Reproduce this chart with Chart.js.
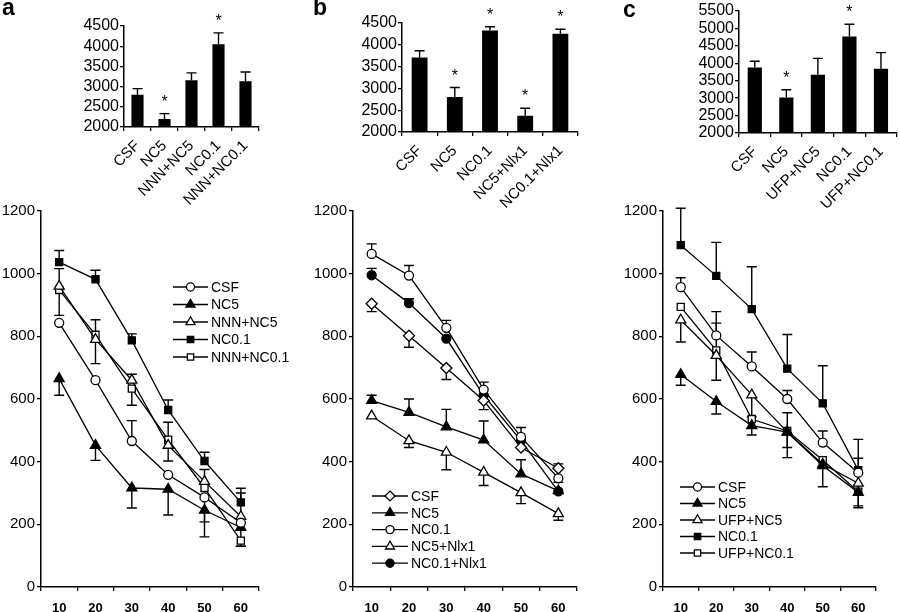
<!DOCTYPE html>
<html><head><meta charset="utf-8">
<script src="https://cdn.jsdelivr.net/npm/chart.js"></script>
<style>
body{margin:0;background:#fff;}
#wrap{position:relative;width:900px;height:612px;overflow:hidden;background:#fff;}
#wrap canvas{position:absolute;}
.lt{position:absolute;font-family:'Liberation Sans',Arial,sans-serif;font-weight:bold;font-size:23px;line-height:23px;color:#000;}
</style></head><body>
<div id="wrap">
<canvas id="barA"></canvas><canvas id="barB"></canvas><canvas id="barC"></canvas>
<canvas id="lineA"></canvas><canvas id="lineB"></canvas><canvas id="lineC"></canvas>
<div class="lt" style="left:2px;top:-4px">a</div>
<div class="lt" style="left:313px;top:-4px">b</div>
<div class="lt" style="left:623px;top:-2px">c</div>
</div>
<script>
// ---------------- DATA ----------------
const timeLabels = ['10', '20', '30', '40', '50', '60'];

// Panel a (top bars)
const aBarLabels = ['CSF', 'NC5', 'NNN+NC5', 'NC0.1', 'NNN+NC0.1'];
const aBarValues = [2800, 2200, 3160, 4050, 3130];
const aBarErrors = [150, 130, 180, 280, 230];
const aBarSig = [false, true, false, true, false];

// Panel b (top bars)
const bBarLabels = ['CSF', 'NC5', 'NC0.1', 'NC5+Nlx1', 'NC0.1+Nlx1'];
const bBarValues = [3710, 2800, 4330, 2375, 4255];
const bBarErrors = [155, 220, 85, 170, 100];
const bBarSig = [false, true, true, true, true];

// Panel c (top bars)
const cBarLabels = ['CSF', 'NC5', 'UFP+NC5', 'NC0.1', 'UFP+NC0.1'];
const cBarValues = [3880, 3020, 3670, 4770, 3845];
const cBarErrors = [180, 220, 470, 350, 460];
const cBarSig = [false, true, false, true, false];

// Panel a (time course); errors: + drawn upward, - drawn downward
const aNames = ['CSF', 'NC5', 'NNN+NC5', 'NC0.1', 'NNN+NC0.1'];
const aCSF = [843, 660, 466, 358, 286, 205];
const aCSFErr = [0, 0, 65, 0, -78, 0];
const aNC5 = [665, 452, 316, 312, 245, 190];
const aNC5Err = [-53, -48, -64, -82, -85, -60];
const aNNNNC5 = [960, 790, 660, 452, 337, 225];
const aNNNNC5Err = [56, -77, 19, -50, 38, 75];
const aNC01 = [1037, 982, 787, 565, 402, 270];
const aNC01Err = [37, 29, 21, 32, 28, 45];
const aNNNNC01 = [948, 805, 633, 470, 316, 148];
const aNNNNC01Err = [-81, 48, -53, 56, 0, -18];

// Panel b (time course)
const bNames = ['CSF', 'NC5', 'NC0.1', 'NC5+Nlx1', 'NC0.1+Nlx1'];
const bCSF = [904, 802, 699, 595, 445, 379];
const bCSFErr = [-25, -37, -37, -29, 0, 14];
const bNC5 = [595, 557, 511, 469, 361, 307];
const bNC5Err = [17, 43, 56, 61, 45, 0];
const bNC01 = [1063, 994, 827, 630, 479, 347];
const bNC01Err = [32, 32, 24, 24, 30, -13];
const bNC5Nlx = [546, 467, 430, 366, 301, 234];
const bNC5NlxErr = [0, -22, -56, -42, -35, -21];
const bNC01Nlx = [995, 906, 793, 612, 467, 305];
const bNC01NlxErr = [22, 14, 0, 0, 0, 0];

// Panel c (time course)
const cNames = ['CSF', 'NC5', 'UFP+NC5', 'NC0.1', 'UFP+NC0.1'];
const cCSF = [957, 803, 704, 600, 461, 365];
const cCSFErr = [30, 76, 46, 27, 37, 46];
const cNC5 = [678, 592, 515, 494, 387, 302];
const cNC5Err = [-34, -40, -30, -81, -67, -49];
const cUFPNC5 = [852, 739, 613, 495, 392, 331];
const cUFPNC5Err = [-70, -79, -70, 61, 0, 0];
const cNC01 = [1091, 993, 887, 697, 586, 373];
const cNC01Err = [118, 107, 135, 109, 120, 98];
const cUFPNC01 = [894, 755, 536, 498, 405, 304];
const cUFPNC01Err = [0, 87, 0, -53, 0, -45];

// ---------------- STYLE / LAYOUT ----------------
const FONT = "'Liberation Sans', Arial, sans-serif";
const RADIUS = {circle: 4.5, triangle: 5.8, rect: 5, rectRot: 5.5};
const aStyles = [['circle', false], ['triangle', true], ['triangle', false], ['rect', true], ['rect', false]];
const bStyles = [['rectRot', false], ['triangle', true], ['circle', false], ['triangle', false], ['circle', true]];
const cStyles = [['circle', false], ['triangle', true], ['triangle', false], ['rect', true], ['rect', false]];

function drawMarker(ctx, style, r, x, y, filled) {
  ctx.save();
  ctx.beginPath();
  if (style === 'circle') {
    ctx.arc(x, y, r, 0, Math.PI * 2);
  } else if (style === 'triangle') {
    let rad = 0;
    ctx.moveTo(x + Math.sin(rad) * r, y - Math.cos(rad) * r);
    rad += 2 * Math.PI / 3;
    ctx.lineTo(x + Math.sin(rad) * r, y - Math.cos(rad) * r);
    rad += 2 * Math.PI / 3;
    ctx.lineTo(x + Math.sin(rad) * r, y - Math.cos(rad) * r);
    ctx.closePath();
  } else if (style === 'rect') {
    const s = r * Math.SQRT1_2;
    ctx.rect(x - s, y - s, 2 * s, 2 * s);
  } else {
    ctx.moveTo(x, y - r); ctx.lineTo(x + r, y); ctx.lineTo(x, y + r); ctx.lineTo(x - r, y); ctx.closePath();
  }
  ctx.fillStyle = filled ? '#000' : '#fff';
  ctx.fill();
  ctx.lineWidth = 1.3; ctx.strokeStyle = '#000';
  ctx.stroke();
  ctx.restore();
}

const errorBarPlugin = {
  id: 'errorBars',
  beforeDatasetsDraw(chart, args, opts) { if (chart.config.type === 'line') drawErrors(chart, opts); },
  afterDatasetsDraw(chart, args, opts) { if (chart.config.type === 'bar') { drawErrors(chart, opts); drawStars(chart); } }
};
function drawErrors(chart, opts) {
  const ctx = chart.ctx, ys = chart.scales.y;
  const cap = opts.cap || 10;
  chart.data.datasets.forEach((ds, di) => {
    const meta = chart.getDatasetMeta(di);
    (ds.errors || []).forEach((e, i) => {
      if (!e) return;
      const x = meta.data[i].x;
      const y1 = ys.getPixelForValue(ds.data[i]);
      const y2 = ys.getPixelForValue(ds.data[i] + e);
      ctx.save();
      ctx.strokeStyle = '#000'; ctx.lineWidth = 1.4;
      ctx.beginPath();
      ctx.moveTo(x, y1); ctx.lineTo(x, y2);
      ctx.moveTo(x - cap / 2, y2); ctx.lineTo(x + cap / 2, y2);
      ctx.stroke();
      ctx.restore();
    });
  });
}
function drawStars(chart) {
  const ctx = chart.ctx, ys = chart.scales.y;
  chart.data.datasets.forEach((ds, di) => {
    const meta = chart.getDatasetMeta(di);
    (ds.sig || []).forEach((s, i) => {
      if (!s) return;
      const x = meta.data[i].x;
      const yt = ys.getPixelForValue(ds.data[i] + Math.max(0, ds.errors[i]));
      ctx.save();
      ctx.fillStyle = '#000';
      ctx.font = '16px ' + FONT;
      ctx.textAlign = 'center'; ctx.textBaseline = 'alphabetic';
      ctx.fillText('*', x, yt - 7);
      ctx.restore();
    });
  });
}

const lineLegendPlugin = {
  id: 'lineLegend',
  afterDraw(chart, args, opts) {
    if (!opts || opts.x === undefined) return;
    const ctx = chart.ctx;
    chart.data.datasets.forEach((ds, i) => {
      const y = opts.y + i * opts.dy;
      ctx.save();
      ctx.strokeStyle = '#000'; ctx.lineWidth = 1.3;
      ctx.beginPath(); ctx.moveTo(opts.x, y); ctx.lineTo(opts.x + opts.len, y); ctx.stroke();
      ctx.restore();
      drawMarker(ctx, ds.pointStyle, ds.pointRadius * 0.9, opts.x + opts.len / 2, y, ds.pointBackgroundColor === '#000');
      ctx.save();
      ctx.fillStyle = '#000'; ctx.font = '14px ' + FONT;
      ctx.textAlign = 'left'; ctx.textBaseline = 'middle';
      ctx.fillText(ds.label, opts.x + opts.len + 3, y + 1);
      ctx.restore();
    });
  }
};

function placeCanvas(id, box) {
  const c = document.getElementById(id);
  c.width = box.w; c.height = box.h;
  c.style.left = box.left + 'px'; c.style.top = box.top + 'px';
  c.style.width = box.w + 'px'; c.style.height = box.h + 'px';
  return c;
}

function axisCommon() {
  return {
    grid: {drawOnChartArea: false, drawTicks: true, tickLength: 4, color: '#000', lineWidth: 1.3},
    border: {display: true, color: '#000', width: 1.5}
  };
}
const plainNumber = v => String(v);

function makeBar(id, box, area, labels, values, errors, sig, yMax) {
  const c = placeCanvas(id, box);
  const xc = axisCommon(), yc = axisCommon();
  return new Chart(c, {
    type: 'bar',
    data: {labels: labels, datasets: [{data: values, errors: errors, sig: sig, backgroundColor: '#000',
      borderWidth: 0, barPercentage: 0.45, categoryPercentage: 1}]},
    options: {
      responsive: false, animation: false, devicePixelRatio: 1,
      layout: {padding: {top: area.t - box.top, right: box.left + box.w - area.r, left: 0, bottom: 0}},
      plugins: {legend: {display: false}, tooltip: {enabled: false}, errorBars: {cap: 10}},
      scales: {
        x: Object.assign(xc, {
          offset: true,
          grid: Object.assign(xc.grid, {offset: true}),
          ticks: {color: '#000', font: {family: FONT, size: 15}, minRotation: 45, maxRotation: 45, autoSkip: false, padding: 6},
          afterFit: s => { s.height = box.top + box.h - area.b; }
        }),
        y: Object.assign(yc, {
          min: 2000, max: yMax,
          ticks: {stepSize: 500, color: '#000', font: {family: FONT, size: 16}, padding: 1, autoSkip: false, callback: plainNumber},
          afterFit: s => { s.width = area.l - box.left; }
        })
      }
    },
    plugins: [errorBarPlugin]
  });
}

function makeLine(id, box, area, names, styles, seriesVals, seriesErrs, legend) {
  const c = placeCanvas(id, box);
  const xc = axisCommon(), yc = axisCommon();
  const datasets = names.map((n, i) => ({
    label: n, data: seriesVals[i], errors: seriesErrs[i],
    borderColor: '#000', borderWidth: 1.3, tension: 0, fill: false,
    pointStyle: styles[i][0], pointRadius: RADIUS[styles[i][0]],
    pointBackgroundColor: styles[i][1] ? '#000' : '#fff', pointBorderColor: '#000', pointBorderWidth: 1.3
  }));
  return new Chart(c, {
    type: 'line',
    data: {labels: timeLabels, datasets: datasets},
    options: {
      responsive: false, animation: false, devicePixelRatio: 1,
      layout: {padding: {top: area.t - box.top, right: box.left + box.w - area.r, left: 0, bottom: 0}},
      plugins: {legend: {display: false}, tooltip: {enabled: false}, errorBars: {cap: 10},
        lineLegend: {x: legend.x - box.left, y: legend.y - box.top, dy: legend.dy, len: legend.len}},
      scales: {
        x: Object.assign(xc, {
          offset: true,
          grid: Object.assign(xc.grid, {offset: true}),
          ticks: {color: '#000', font: {family: FONT, size: 13, weight: 'bold'}, maxRotation: 0, autoSkip: false, padding: 10},
          afterFit: s => { s.height = box.top + box.h - area.b; }
        }),
        y: Object.assign(yc, {
          min: 0, max: 1200,
          ticks: {stepSize: 200, color: '#000', font: {family: FONT, size: 15}, padding: 2, autoSkip: false, callback: plainNumber},
          afterFit: s => { s.width = area.l - box.left; }
        })
      }
    },
    plugins: [errorBarPlugin, lineLegendPlugin]
  });
}

makeBar('barA', {left: 0, top: 0, w: 300, h: 225}, {l: 124, t: 26, r: 259, b: 127}, aBarLabels, aBarValues, aBarErrors, aBarSig, 4500);
makeBar('barB', {left: 300, top: 0, w: 300, h: 225}, {l: 402, t: 23, r: 578, b: 132}, bBarLabels, bBarValues, bBarErrors, bBarSig, 4500);
makeBar('barC', {left: 600, top: 0, w: 300, h: 225}, {l: 739, t: 11, r: 897, b: 133}, cBarLabels, cBarValues, cBarErrors, cBarSig, 5500);

makeLine('lineA', {left: 0, top: 195, w: 300, h: 417}, {l: 41, t: 211, r: 259, b: 587}, aNames, aStyles,
  [aCSF, aNC5, aNNNNC5, aNC01, aNNNNC01], [aCSFErr, aNC5Err, aNNNNC5Err, aNC01Err, aNNNNC01Err],
  {x: 173, y: 287, dy: 17.5, len: 35});
makeLine('lineB', {left: 300, top: 195, w: 300, h: 417}, {l: 353, t: 211, r: 577, b: 587}, bNames, bStyles,
  [bCSF, bNC5, bNC01, bNC5Nlx, bNC01Nlx], [bCSFErr, bNC5Err, bNC01Err, bNC5NlxErr, bNC01NlxErr],
  {x: 372, y: 496, dy: 16.8, len: 36});
makeLine('lineC', {left: 600, top: 195, w: 300, h: 417}, {l: 663, t: 211, r: 876, b: 587}, cNames, cStyles,
  [cCSF, cNC5, cUFPNC5, cNC01, cUFPNC01], [cCSFErr, cNC5Err, cUFPNC5Err, cNC01Err, cUFPNC01Err],
  {x: 680, y: 487, dy: 16.5, len: 35});
</script>
</body></html>
